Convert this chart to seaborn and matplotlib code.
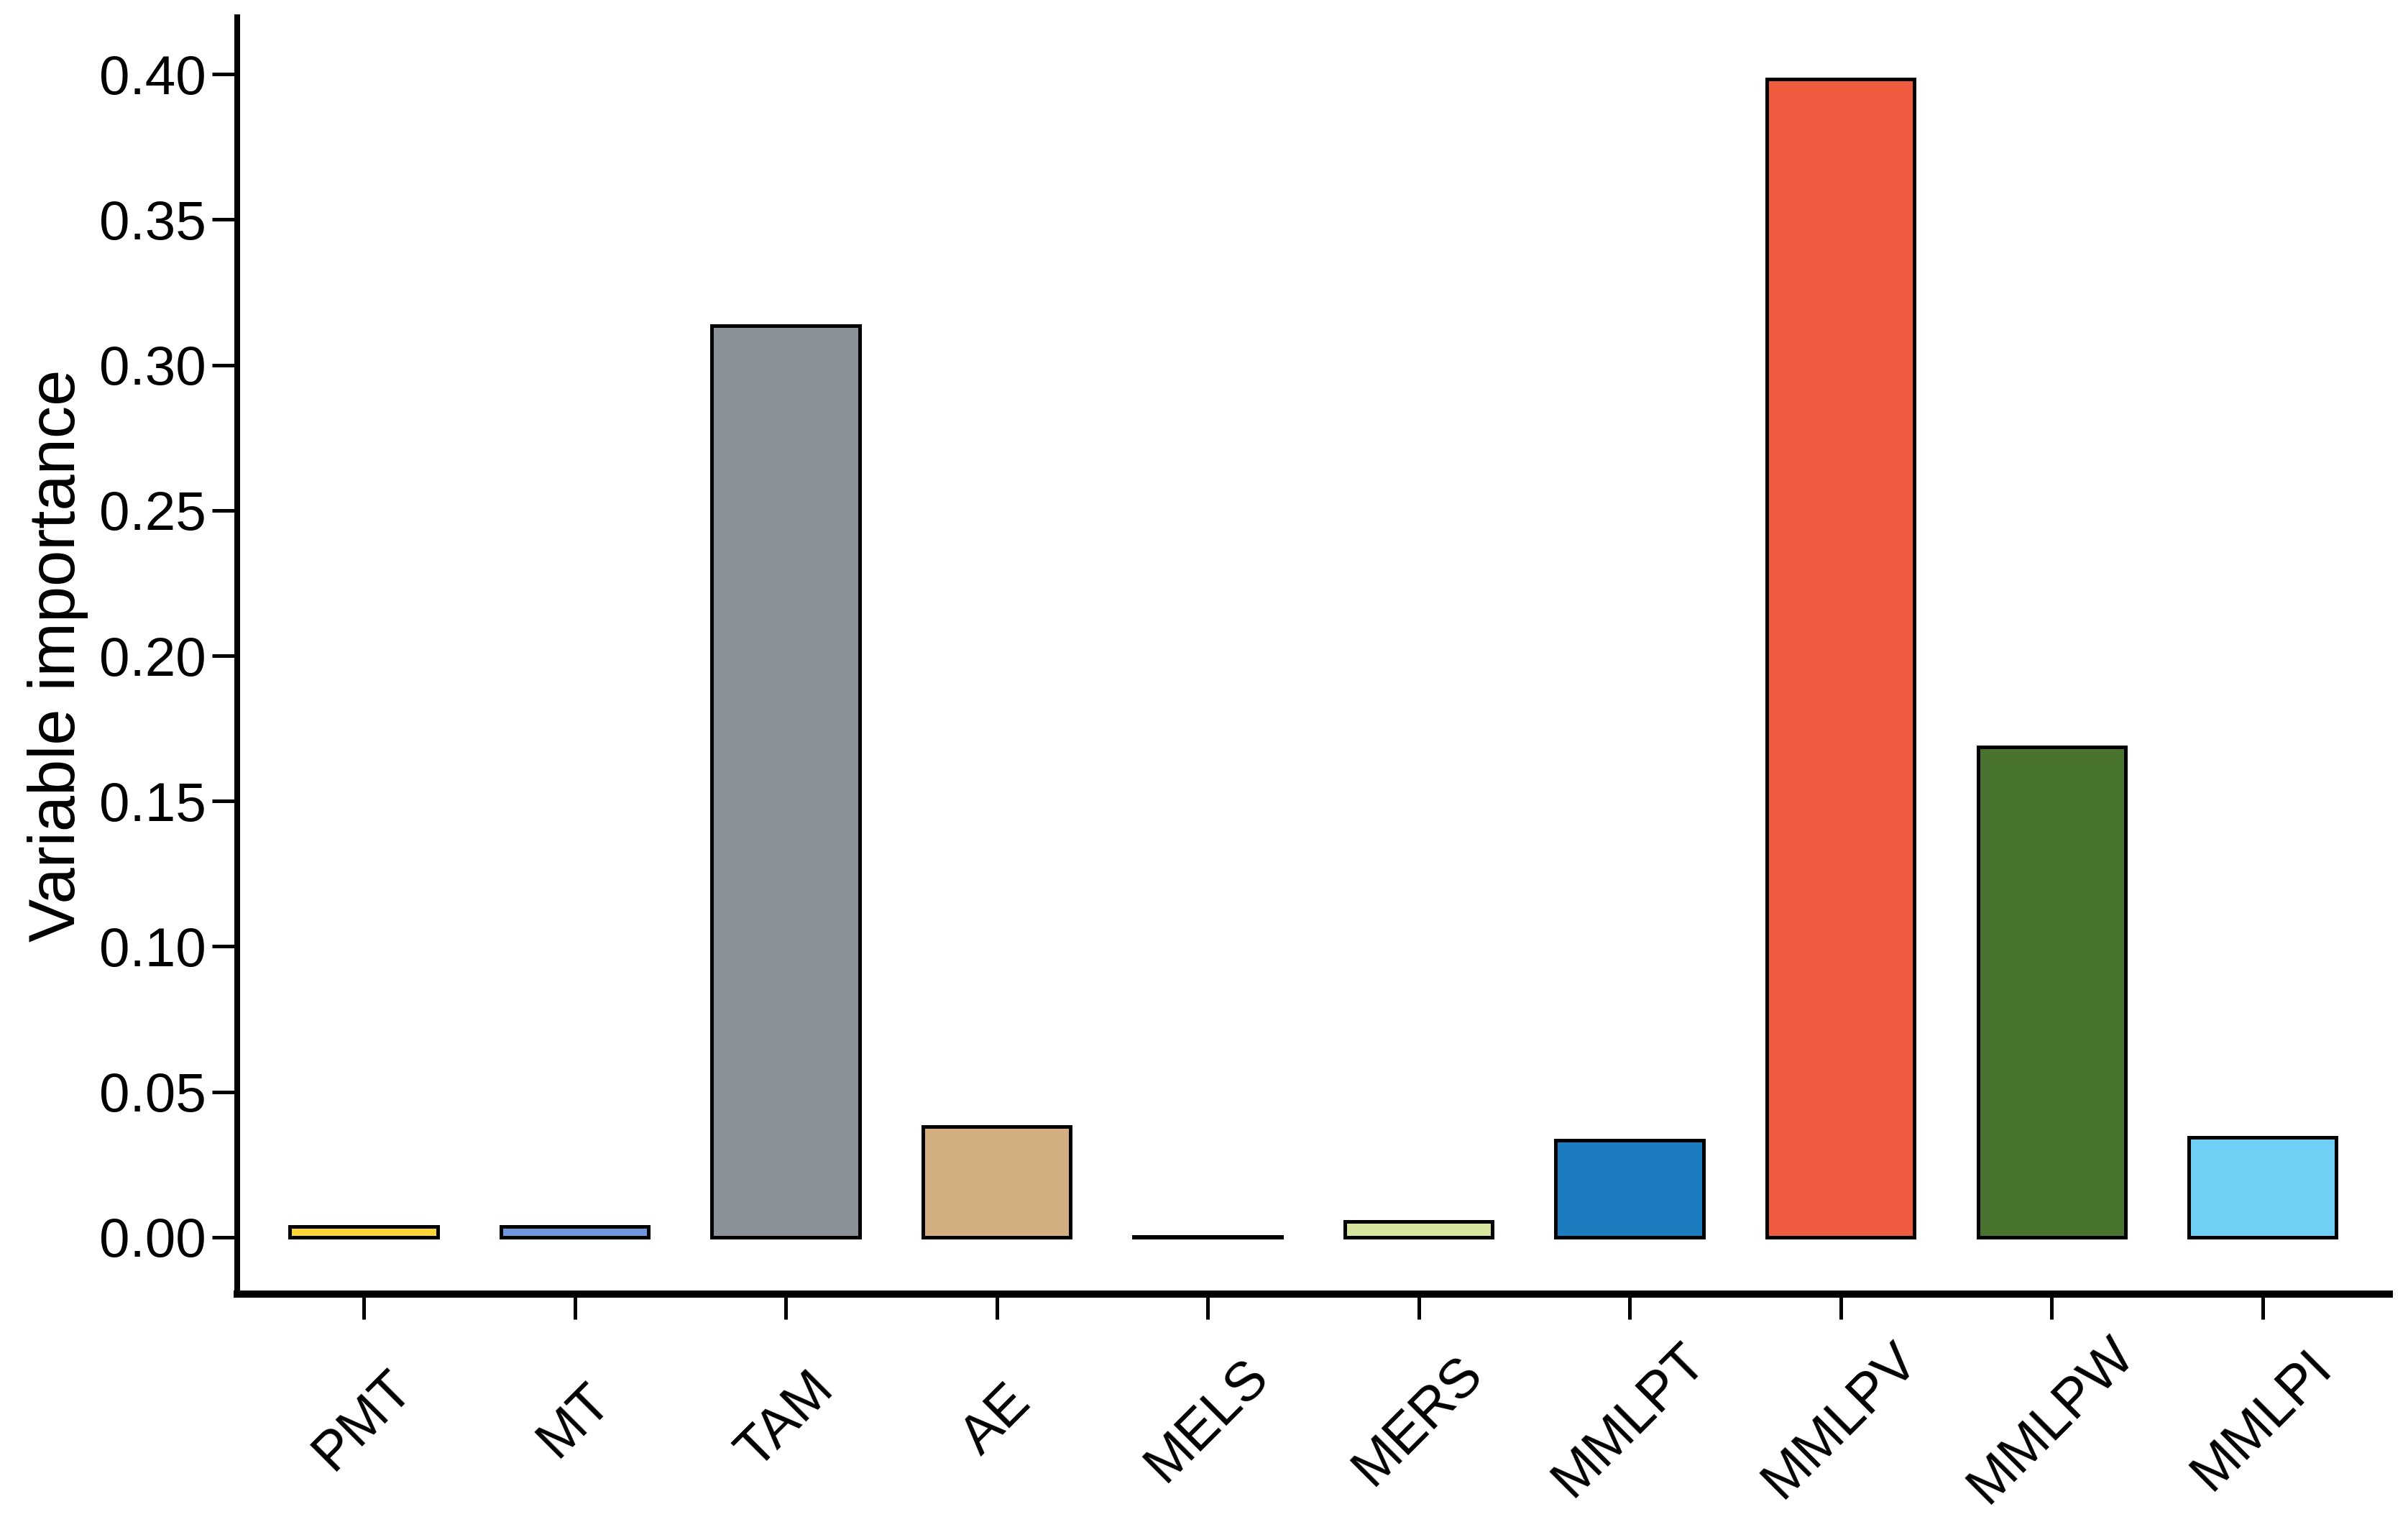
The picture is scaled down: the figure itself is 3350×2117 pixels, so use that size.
import matplotlib
matplotlib.use("Agg")
import matplotlib.pyplot as plt
import seaborn as sns
import pandas as pd

categories = ["PMT", "MT", "TAM", "AE", "MELS", "MERS", "MMLPT", "MMLPV", "MMLPW", "MMLPI"]
importance = [0.0036, 0.0036, 0.3136, 0.0381, 0.0002, 0.0053, 0.0333, 0.3983, 0.1687, 0.0344]
colors = ["#FDD537", "#7098E0", "#8A9198", "#D2AE80", "#FFFFFF",
          "#D6E4A0", "#1B7DBF", "#EF5B3F", "#487430", "#70CFF4"]
yticks = [0.00, 0.05, 0.10, 0.15, 0.20, 0.25, 0.30, 0.35, 0.40]

sns.set_style("ticks")
plt.rcParams["font.family"] = ["Liberation Sans", "DejaVu Sans"]
plt.rcParams.update({
    "text.color": "black",
    "axes.labelcolor": "black",
    "axes.edgecolor": "black",
    "xtick.color": "black",
    "ytick.color": "black",
})

df = pd.DataFrame({"var": categories, "imp": importance})

fig = plt.figure(figsize=(16.75, 10.585), dpi=200)
ax = fig.add_axes([0.0985, 0.1497, 0.8937, 0.8390])

sns.barplot(data=df, x="var", y="imp", hue="var", palette=colors, legend=False,
            width=0.7, edgecolor="black", linewidth=1.8, saturation=1, ax=ax)

ax.set_xlim(-0.6, 9.6)
ax.set_ylim(-0.0196, 0.4196)
ax.set_yticks(yticks)
ax.set_yticklabels([f"{v:.2f}" for v in yticks])
ax.set_xlabel("")
ax.set_ylabel("Variable importance", fontsize=32.5, color="black")
ax.yaxis.set_label_coords(-0.069, 0.5)

for s in ["top", "right"]:
    ax.spines[s].set_visible(False)
ax.spines["left"].set_linewidth(2.9)
ax.spines["bottom"].set_linewidth(3.6)
ax.spines["left"].set_color("black")
ax.spines["bottom"].set_color("black")

ax.tick_params(axis="y", direction="out", length=12.6, width=1.8, labelsize=27.5, pad=3,
               color="black", labelcolor="black")
ax.tick_params(axis="x", direction="out", length=12.6, width=1.8, labelsize=27.5, pad=50.8,
               color="black", labelcolor="black")
for lab in ax.get_xticklabels():
    lab.set_rotation(45)
    lab.set_ha("center")
    lab.set_va("center")

fig.savefig("out.png", dpi=200, facecolor="white")
